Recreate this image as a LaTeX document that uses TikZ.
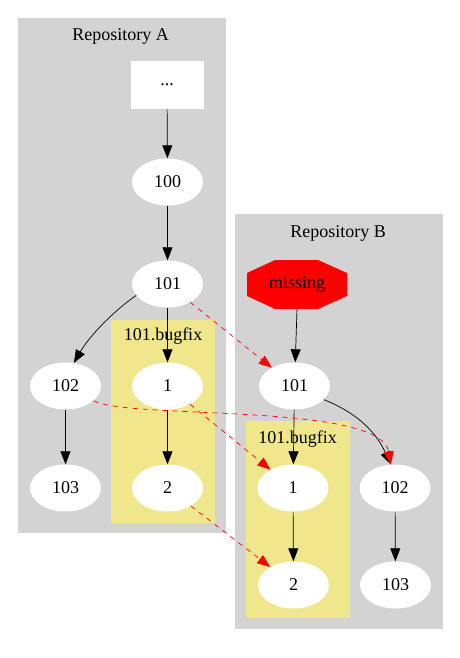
\documentclass[tikz,border=0pt]{standalone}
\usepackage{fontspec}
\setmainfont{Liberation Serif}
\usetikzlibrary{arrows.meta,shapes.geometric}
\definecolor{clgray}{HTML}{D3D3D3}
\definecolor{khaki}{HTML}{F0E68C}
\begin{document}
\begin{tikzpicture}[x=1pt,y=-1pt,
  every node/.style={font=\fontsize{18}{20}\selectfont},
  commit/.style={ellipse,fill=white,minimum width=71pt,minimum height=47pt,inner sep=0pt},
  boxnode/.style={rectangle,fill=white,minimum width=73pt,minimum height=48pt,inner sep=0pt},
  cluster/.style={fill=clgray,draw=none},
  bugcluster/.style={fill=khaki,draw=none},
  tip/.style={-{Triangle[length=13pt,width=10pt]}},
  link/.style={tip,black,line width=0.7pt},
  xlink/.style={tip,red,line width=0.7pt,dash pattern=on 5pt off 5pt}
]
\useasboundingbox (0,0) rectangle (460,658);
\fill[white] (0,0) rectangle (460,658);
% clusters
\path[cluster] (18,18) rectangle (226,533);
\path[cluster] (235,214) rectangle (443,629);
\path[bugcluster] (111,320) rectangle (215,523);
\path[bugcluster] (246,421) rectangle (350,618);
\node (labA) at (120.5,36) {Repository A};
\node (labB) at (338,233) {Repository B};
\node (labBA) at (163,336) {101.bugfix};
\node (labBB) at (297.5,439) {101.bugfix};
% nodes A
\node[boxnode] (dots) at (167,85) {...};
\node[commit] (a100) at (167.5,182) {100};
\node[commit] (a101) at (167.5,284) {101};
\node[commit] (a102) at (65.5,386) {102};
\node[commit] (a1) at (167.5,386) {1};
\node[commit] (a103) at (65.5,488) {103};
\node[commit] (a2) at (167.5,488) {2};
% nodes B
\node[minimum width=100pt,minimum height=49pt,inner sep=0pt] (miss) at (297,284.5) {};
\fill[red] (275,260) -- (318,260) -- (347,273) -- (347,296) -- (318,309) -- (275,309) -- (247,296) -- (247,273) -- cycle;
\node at (miss) {missing};
\node[commit] (b101) at (294.5,386) {101};
\node[commit] (b1) at (293,488) {1};
\node[commit] (b102) at (395,488) {102};
\node[commit] (b2) at (293.5,585) {2};
\node[commit] (b103) at (395.5,585) {103};
% edges A
\draw[link] (dots) -- (a100);
\draw[link] (a100) -- (a101);
\draw[link] (a101) -- (a1);
\draw[link] (a1) -- (a2);
\draw[link] (a102) -- (a103);
\draw[link] (a101.200) .. controls (115,310) and (90,335) .. (a102.70);
% edges B
\draw[link] (miss.south) -- (b101);
\draw[link] (b101) -- (b1);
\draw[link] (b1) -- (b2);
\draw[link] (b102) -- (b103);
\draw[link] (b101.-25) .. controls (355,412) and (375,430) .. (b102.100);
% cross links
\draw[xlink] (a101) -- (b101);
\draw[xlink] (a1) -- (b1);
\draw[xlink] (a2) -- (b2);
\draw[xlink] (a102) .. controls (130,420) and (380,402) .. (b102);
\end{tikzpicture}
\end{document}
